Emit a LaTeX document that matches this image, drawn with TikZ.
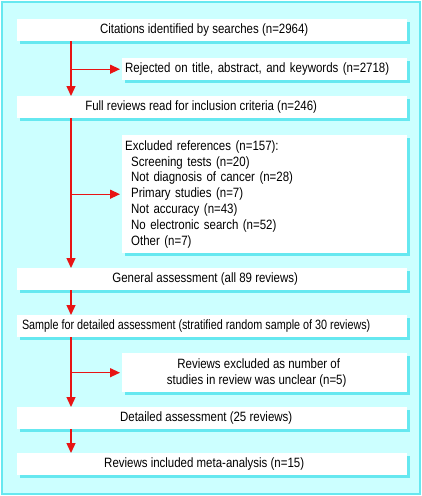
\documentclass[tikz,border=0pt]{standalone}
\usepackage{fontspec}
\setmainfont{Liberation Sans}[FakeStretch=0.85]
\usetikzlibrary{positioning,arrows.meta,shadows}
\definecolor{bgcyan}{RGB}{204,255,255}
\definecolor{edgecyan}{RGB}{102,232,240}
\definecolor{flowred}{RGB}{232,20,20}

\begin{document}
\begin{tikzpicture}[
    x=1pt, y=-1pt,
    font=\fontsize{13.5}{15.8}\selectfont,
    box/.style={ fill=white,
      anchor=north west,
      inner sep=0pt,
      align=center,
      minimum height=22pt,
      minimum width=390pt,
      drop shadow={shadow xshift=2.5pt, shadow yshift=-2.5pt, fill=edgecyan, opacity=1}},
    sidebox/.style={box, minimum width=285pt},
    nudge/.style={execute at end node={\hspace*{#1}}},
    flow/.style={draw=flowred, line width=1.3pt, -{Triangle[length=10pt,width=9pt]}}]
    \useasboundingbox (0,0) rectangle (422,496);
    \fill[white] (0,0) rectangle (422,496);
    \draw[edgecyan, line width=2pt, fill=bgcyan] (2,2) rectangle (420,494);

    \node[box, nudge=16pt] (cit) at (17,19) {Citations identified by searches (n=2964)};
    \node[sidebox, align=left, text width=279pt, inner xsep=3pt] (rej) at (122,58)
      {Rejected on title, abstract, and keywords (n=2718)};
    \node[box, nudge=22pt] (full) at (17,96) {Full reviews read for inclusion criteria (n=246)};
    \node[sidebox, align=left, text width=279pt, inner xsep=3pt, minimum height=118pt] (excl) at (122,135)
      {Excluded references (n=157):\\
       \hspace*{6pt}Screening tests (n=20)\\
       \hspace*{6pt}Not diagnosis of cancer (n=28)\\
       \hspace*{6pt}Primary studies (n=7)\\
       \hspace*{6pt}Not accuracy (n=43)\\
       \hspace*{6pt}No electronic search (n=52)\\
       \hspace*{6pt}Other (n=7)};
    \node[box, nudge=14pt] (gen) at (17,268) {General assessment (all 89 reviews)};
    \node[box, nudge=32pt] (samp) at (17,315)
      {\scalebox{0.94}[1]{Sample for detailed assessment (stratified random sample of 30 reviews)}};
    \node[sidebox, minimum height=39pt] (unc) at (122,353)
      {Reviews excluded as number of\hspace*{12pt}\\ studies in review was unclear (n=5)\hspace*{16pt}};
    \node[box, nudge=12pt] (det) at (17,407) {Detailed assessment (25 reviews)};
    \node[box, nudge=16pt] (meta) at (17,453) {Reviews included meta-analysis (n=15)};

    \coordinate (spine) at (71,0);
    \draw[flow] (cit.south -| spine) -- (full.north -| spine);
    \draw[flow] (full.south -| spine) -- (gen.north -| spine);
    \draw[flow] (gen.south -| spine) -- (samp.north -| spine);
    \draw[flow] (samp.south -| spine) -- (det.north -| spine);
    \draw[flow] (det.south -| spine) -- (meta.north -| spine);
    \draw[flow, shorten >=2pt] (rej.west -| spine) -- (rej.west);
    \draw[flow, shorten >=2pt] (excl.west -| spine) -- (excl.west);
    \draw[flow, shorten >=2pt] (unc.west -| spine) -- (unc.west);
\end{tikzpicture}
\end{document}
